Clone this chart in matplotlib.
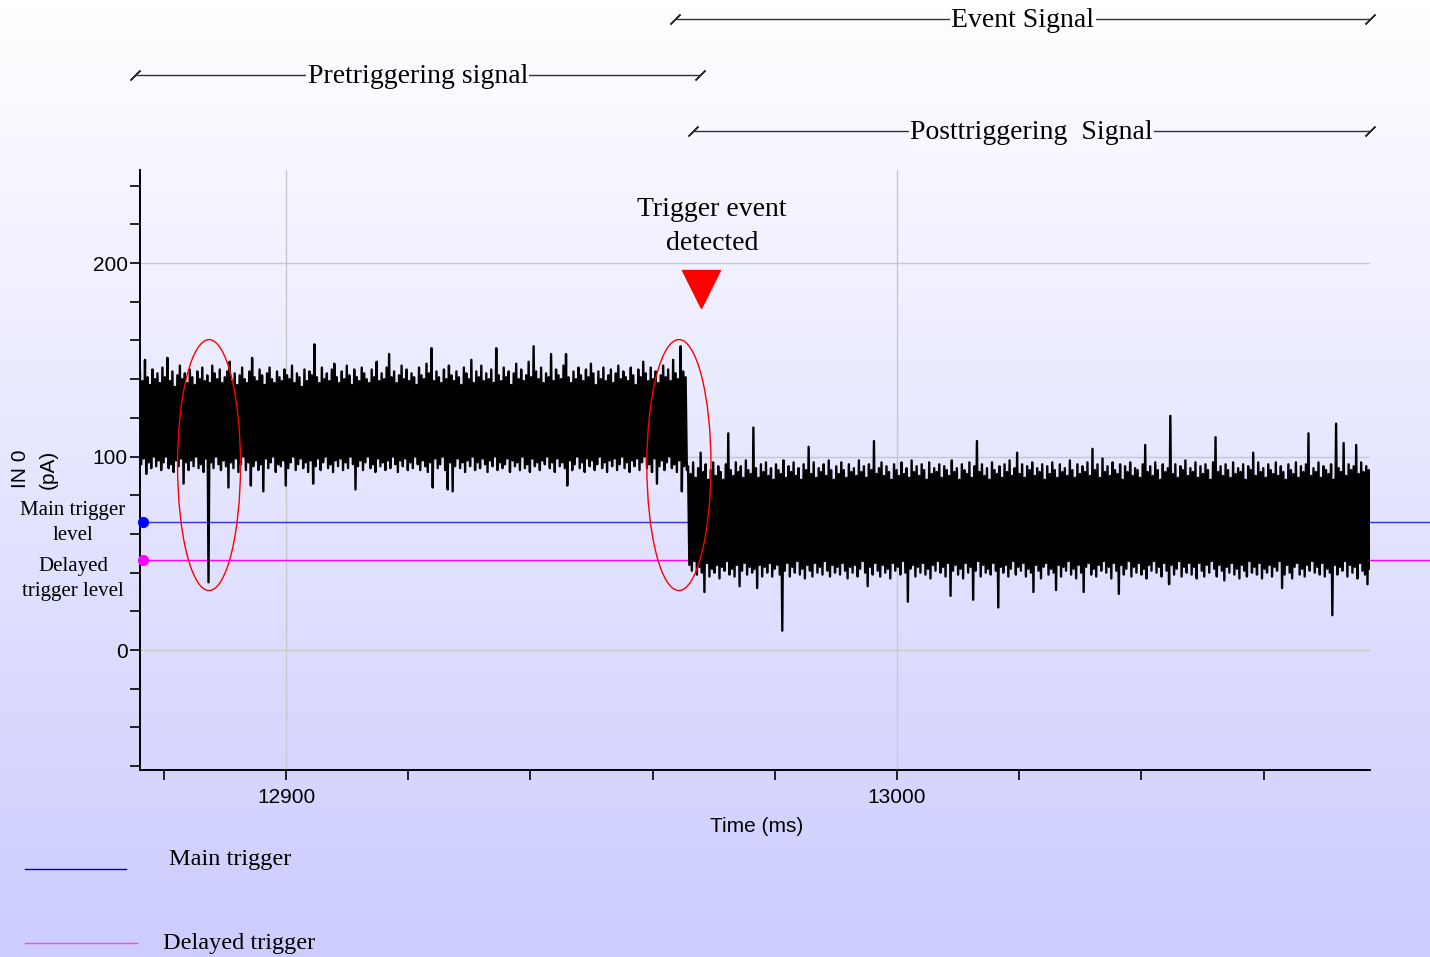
import numpy as np
import matplotlib.pyplot as plt
import matplotlib.transforms as mtransforms
from matplotlib.patches import Ellipse
from matplotlib.lines import Line2D

pre_peaks = [144, 139, 150, 141, 137, 145, 140, 143, 138, 146,
             141, 151, 139, 144, 136, 142, 147, 140, 143, 138,
             145, 141, 137, 144, 140, 146, 139, 142, 138, 147,
             143, 140, 145, 138, 141, 144, 149, 139, 143, 137,
             142, 146, 140, 138, 144, 151, 141, 139, 145, 142,
             137, 143, 146, 140, 138, 144, 141, 139, 145, 142,
             140, 147, 138, 143, 141, 136, 145, 139, 144, 142,
             158, 141, 138, 146, 140, 143, 139, 145, 148, 141,
             138, 144, 140, 147, 142, 137, 145, 141, 139, 146,
             143, 140, 138, 145, 141, 149, 139, 143, 140, 146,
             153, 141, 144, 138, 142, 147, 140, 145, 139, 143,
             141, 137, 146, 142, 140, 148, 143, 156, 139, 144,
             141, 138, 145, 140, 147, 142, 139, 144, 141, 137,
             146, 143, 140, 150, 138, 144, 141, 147, 139, 143,
             140, 145, 138, 156, 142, 139, 146, 141, 144, 137,
             143, 148, 140, 145, 139, 142, 149, 141, 157, 144,
             140, 146, 138, 143, 141, 153, 139, 145, 142, 140,
             147, 153, 141, 138, 144, 140, 146, 142, 139, 145,
             141, 148, 143, 137, 144, 140, 146, 139, 142, 145,
             138, 143, 147, 140, 144, 141, 139, 146, 142, 137,
             145, 141, 149, 143, 139, 146, 140, 144, 138, 142,
             147, 141, 145, 139, 150, 143, 140, 157, 144, 141]
pre_troughs = [96, 99, 91, 97, 94, 100, 95, 98, 93, 97,
               100, 94, 96, 92, 98, 95, 99, 86, 97, 93,
               98, 95, 100, 94, 96, 92, 99, 35, 97, 94,
               100, 96, 93, 98, 95, 84, 97, 94, 99, 92,
               96, 100, 93, 97, 85, 95, 98, 93, 96, 82,
               99, 94, 97, 100, 92, 96, 95, 98, 85, 94,
               97, 100, 93, 96, 99, 94, 97, 92, 98, 86,
               95, 99, 93, 97, 100, 94, 96, 92, 98, 95,
               99, 93, 97, 94, 100, 96, 83, 95, 98, 93,
               97, 100, 94, 96, 92, 99, 95, 97, 93, 98,
               94, 100, 96, 92, 98, 95, 99, 93, 97, 94,
               100, 96, 93, 98, 95, 92, 97, 84, 99, 94,
               96, 100, 93, 83, 97, 82, 95, 99, 94, 97,
               92, 98, 95, 100, 93, 97, 94, 99, 96, 92,
               98, 95, 100, 93, 97, 94, 96, 99, 92, 98,
               95, 97, 93, 100, 94, 96, 92, 99, 95, 97,
               93, 98, 96, 100, 94, 97, 92, 99, 95, 97,
               94, 85, 98, 93, 96, 100, 94, 97, 92, 99,
               95, 98, 93, 96, 100, 94, 97, 92, 98, 95,
               99, 93, 96, 100, 94, 97, 92, 98, 95, 99,
               93, 97, 100, 94, 96, 92, 99, 86, 95, 98,
               93, 97, 100, 94, 96, 92, 98, 82, 95, 93]
post_peaks = [95, 91, 97, 89, 94, 102, 92, 96, 88, 93,
              97, 90, 95, 92, 88, 96, 112, 93, 90, 97,
              92, 95, 89, 98, 93, 91, 115, 94, 89, 96,
              92, 97, 90, 94, 88, 96, 93, 91, 98, 89,
              95, 92, 97, 90, 94, 88, 96, 93, 105, 91,
              97, 89, 94, 92, 96, 90, 98, 93, 88, 95,
              91, 97, 93, 89, 96, 92, 94, 90, 98, 92,
              95, 89, 96, 93, 108, 91, 94, 97, 90, 95,
              92, 88, 96, 93, 90, 97, 91, 94, 89, 98,
              92, 95, 90, 96, 93, 88, 97, 91, 94, 92,
              96, 89, 95, 93, 90, 98, 92, 94, 88, 96,
              93, 91, 97, 89, 95, 108, 92, 96, 90, 94,
              88, 97, 93, 91, 95, 89, 96, 92, 98, 90,
              94, 102, 91, 96, 89, 95, 93, 97, 90, 94,
              92, 96, 88, 95, 91, 97, 93, 89, 96, 92,
              94, 90, 98, 93, 89, 96, 91, 95, 92, 97,
              90, 104, 93, 96, 89, 99, 92, 95, 90, 97,
              93, 91, 96, 88, 95, 92, 97, 90, 94, 93,
              89, 96, 106, 92, 95, 90, 97, 93, 88, 96,
              92, 94, 121, 91, 96, 89, 95, 93, 98, 90,
              94, 92, 97, 89, 95, 91, 96, 93, 88, 97,
              110, 92, 95, 90, 96, 93, 89, 97, 91, 94,
              92, 96, 88, 95, 93, 102, 90, 97, 92, 94,
              89, 96, 93, 91, 97, 90, 95, 92, 88, 96,
              93, 91, 97, 89, 95, 92, 96, 112, 90, 94,
              92, 97, 89, 95, 93, 91, 96, 88, 117, 94,
              92, 107, 90, 96, 93, 95, 106, 91, 97, 92,
              95, 93]
post_troughs = [44, 41, 46, 39, 43, 40, 30, 45, 38, 42,
                40, 44, 37, 43, 41, 46, 39, 42, 38, 44,
                33, 41, 45, 39, 43, 40, 42, 32, 44, 38,
                43, 40, 45, 38, 42, 44, 39, 10, 41, 45,
                38, 43, 40, 46, 39, 42, 37, 44, 41, 38,
                45, 40, 43, 39, 46, 41, 38, 44, 40, 43,
                39, 45, 41, 37, 43, 40, 44, 38, 42, 46,
                40, 33, 43, 39, 45, 41, 38, 44, 40, 42,
                37, 45, 41, 43, 39, 46, 40, 25, 42, 44,
                38, 43, 40, 45, 39, 42, 37, 44, 41, 46,
                40, 43, 38, 45, 28, 41, 44, 39, 42, 37,
                45, 40, 43, 26, 41, 46, 38, 44, 40, 42,
                39, 45, 41, 22, 43, 40, 44, 38, 42, 46,
                39, 43, 41, 45, 38, 42, 40, 30, 44, 41,
                37, 43, 45, 39, 42, 40, 31, 44, 38, 43,
                41, 46, 39, 42, 37, 44, 40, 30, 43, 45,
                39, 42, 38, 44, 41, 46, 40, 43, 37, 45,
                41, 29, 44, 39, 42, 46, 38, 43, 40, 45,
                39, 42, 37, 44, 41, 46, 40, 43, 38, 45,
                41, 34, 44, 39, 42, 46, 38, 43, 40, 45,
                39, 43, 37, 45, 41, 38, 44, 40, 46, 42,
                38, 44, 41, 36, 43, 40, 45, 39, 42, 37,
                44, 41, 38, 46, 40, 43, 39, 45, 37, 42,
                40, 44, 38, 43, 41, 46, 32, 39, 44, 40,
                37, 43, 45, 39, 42, 38, 44, 41, 46, 40,
                43, 39, 45, 38, 42, 40, 18, 44, 39, 43,
                41, 46, 38, 44, 40, 43, 37, 45, 41, 39,
                34, 42]

# Time span of the record (ms)
t_start = 12876.1
t_trigger = 12965.8
t_end = 13077.4

# Trigger levels (pA)
main_level = 66.0
delayed_level = 46.5

x_ticks = [12880, 12900, 12920, 12940, 12960, 12980, 13000, 13020, 13040, 13060]
x_tick_labels = ['', '12900', '', '', '', '', '13000', '', '', '']
y_ticks = [-60, -40, -20, 0, 20, 40, 60, 80, 100, 120, 140, 160, 180, 200, 220, 240]
y_tick_labels = ['', '', '', '0', '', '', '', '', '100', '', '', '', '', '200', '', '']

span_labels = ['Event Signal', 'Pretriggering signal', 'Posttriggering  Signal']
span_starts = [12963.7, 12875.3, 12966.6]
span_ends = [13077.4, 12967.8, 13077.4]

W, H = 1430, 957
serif = 'Liberation Serif'
sans = 'Liberation Sans'

top_col = np.array([1.0, 1.0, 1.0])
bot_col = np.array([0.80, 0.80, 1.0])


def bg_at(ypix):
    f = ypix / H
    return tuple(top_col * (1 - f) + bot_col * f)


fig = plt.figure(figsize=(W / 100, H / 100), dpi=100)

# Background gradient
bg = fig.add_axes([0, 0, 1, 1], zorder=-10)
grad = np.linspace(0, 1, 256)[:, None, None]
img = top_col[None, None, :] * (1 - grad) + bot_col[None, None, :] * grad
bg.imshow(img, aspect='auto', extent=[0, 1, 0, 1], origin='upper')
bg.axis('off')

ax = fig.add_axes([140 / W, 1 - 770 / H, 1230 / W, 600 / H])
ax.set_facecolor('none')
ax.set_xlim(t_start, t_end)
ax.set_ylim(-62, 248.1)

# Grid
for gy in [0, 100, 200]:
    ax.axhline(gy, color='#c8c8c8', lw=1, zorder=0)
for gx in [12900, 13000]:
    ax.axvline(gx, color='#c8c8c8', lw=1, zorder=0)

# Signal
pre = np.empty(2 * len(pre_peaks))
pre[0::2] = pre_peaks
pre[1::2] = pre_troughs
post = np.empty(2 * len(post_peaks))
post[0::2] = post_peaks
post[1::2] = post_troughs
t_pre = np.linspace(t_start, t_trigger, len(pre), endpoint=False)
t_post = np.linspace(t_trigger, t_end, len(post))
ax.plot(np.concatenate([t_pre, t_post]), np.concatenate([pre, post]),
        color='black', lw=1.7, zorder=3)

# Trigger levels, running out to the figure edge
ax.axhline(main_level, xmin=0.003, xmax=1.05, color='#3030ff', lw=1, clip_on=False, zorder=2)
ax.axhline(delayed_level, xmin=0.003, xmax=1.05, color='#ff00ff', lw=1, clip_on=False, zorder=2)
ax.plot([12876.6], [main_level], 'o', color='#0000ff', ms=7, clip_on=False, zorder=4)
ax.plot([12876.6], [delayed_level], 'o', color='#ff00ff', ms=7, clip_on=False, zorder=4)

# Ellipses around the interesting spots
ax.add_patch(Ellipse((12887.4, 95.6), 10.3, 129.7, fill=False, ec='red', lw=1, zorder=5))
ax.add_patch(Ellipse((12964.3, 95.6), 10.5, 129.7, fill=False, ec='red', lw=1, zorder=5))

# Trigger marker
ax.plot([12967.9], [186.6], 'v', color='red', ms=27, zorder=5)
ax.text(12969.7, 219.0, 'Trigger event\ndetected', ha='center', va='center',
        fontsize=20, family=serif, linespacing=1.45)

# Axes styling
for s in ['top', 'right']:
    ax.spines[s].set_visible(False)
for s in ['left', 'bottom']:
    ax.spines[s].set_linewidth(1.4)
ax.set_xticks(x_ticks)
ax.set_xticklabels(x_tick_labels)
ax.set_yticks(y_ticks)
ax.set_yticklabels(y_tick_labels)
ax.tick_params(axis='both', direction='out', length=7, width=1.2, labelsize=15)
ax.tick_params(axis='x', pad=6)
ax.tick_params(axis='y', pad=2)
for lab in ax.get_xticklabels() + ax.get_yticklabels():
    lab.set_family(sans)

fig.text(757 / W, 1 - 826 / H, 'Time (ms)', ha='center', va='center', fontsize=15, family=sans)
fig.text(34 / W, 1 - 469 / H, 'IN 0\n(pA)', ha='center', va='center', rotation=90,
         fontsize=15, family=sans, multialignment='center', linespacing=1.6)

fig.text(73 / W, 1 - 523 / H, 'Main trigger\nlevel', ha='center', va='center',
         fontsize=15, family=serif, linespacing=1.4)
fig.text(73 / W, 1 - 579 / H, 'Delayed\ntrigger level', ha='center', va='center',
         fontsize=15, family=serif, linespacing=1.4)

# Span annotations above the plot
span_y_px = [19, 75, 131]
trans = mtransforms.blended_transform_factory(ax.transData, fig.transFigure)
for lab, a, b, ypx in zip(span_labels, span_starts, span_ends, span_y_px):
    yf = 1 - ypx / H
    ax.plot([a, b], [yf, yf], color='#303030', lw=1, transform=trans, clip_on=False)
    ax.plot([a, b], [yf, yf], ls='none', marker=(2, 2, -45), ms=10, mew=1,
            color='#303030', transform=trans, clip_on=False)
    ax.text((a + b) / 2, yf - 0.002, lab, ha='center', va='center', fontsize=20, family=serif,
            transform=trans, clip_on=False,
            bbox=dict(boxstyle='square,pad=0.05', fc=bg_at(ypx), ec='none'))

# Legend at the bottom
fig.add_artist(Line2D([25 / W, 126 / W], [1 - 869 / H] * 2, color='#0000cc', lw=1))
fig.add_artist(Line2D([25 / W, 137 / W], [1 - 943 / H] * 2, color='#ff40ff', lw=1))
fig.text(169 / W, 1 - 859 / H, 'Main trigger', ha='left', va='center', fontsize=17.5, family=serif)
fig.text(163 / W, 1 - 943 / H, 'Delayed trigger', ha='left', va='center', fontsize=17.5, family=serif)

fig.savefig('out.png', dpi=100)
